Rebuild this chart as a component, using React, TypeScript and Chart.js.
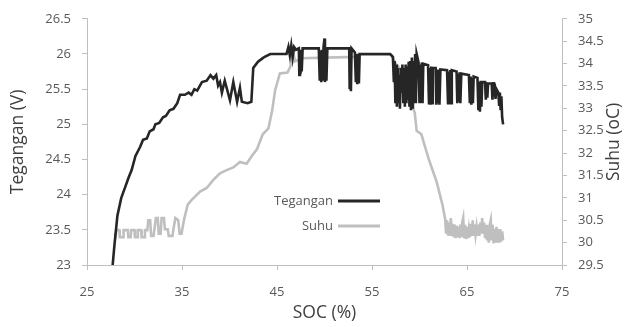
import React, { useEffect, useRef } from 'react';
import { Chart, registerables } from 'chart.js';

Chart.register(...registerables);

// Tegangan (V) against SOC (%): [SOC, volts]
const teganganRise: [number, number][] = [
  [27.7, 23.0], [27.9, 23.3], [28.2, 23.7], [28.6, 23.95], [29.0, 24.1], [29.4, 24.25], [29.7, 24.35], [30.1, 24.55],
  [30.6, 24.68], [30.9, 24.78], [31.3, 24.8], [31.6, 24.9], [32.0, 24.93], [32.2, 25.0], [32.6, 25.02], [33.0, 25.1],
  [33.3, 25.12], [33.7, 25.2], [34.1, 25.22], [34.5, 25.3], [34.8, 25.42], [35.3, 25.42], [35.7, 25.45], [36.0, 25.42],
  [36.3, 25.5], [36.6, 25.48], [37.1, 25.6], [37.6, 25.62], [38.0, 25.7], [38.3, 25.65], [38.6, 25.7], [38.8, 25.55],
  [39.0, 25.6], [39.2, 25.45], [39.5, 25.62], [40.05, 25.34], [40.4, 25.6], [40.8, 25.32], [41.1, 25.52], [41.3, 25.32],
  [41.9, 25.3], [42.3, 25.32], [42.5, 25.8], [43.0, 25.89], [43.4, 25.93], [43.7, 25.96], [44.3, 26.0], [46.0, 26.0],
];
const teganganPlateau: [number, number][] = [
  [46.2, 26.1], [46.35, 25.98], [46.5, 26.12], [46.65, 25.95], [46.8, 26.1], [47.0, 26.06], [47.3, 26.08], [47.35, 25.7],
  [47.42, 26.05], [47.48, 25.72], [47.55, 26.06], [47.6, 25.75], [47.7, 26.08], [49.4, 26.08], [49.5, 25.62], [49.58, 26.05],
  [49.66, 25.6], [49.74, 26.06], [49.82, 25.62], [49.9, 26.1], [50.0, 26.22], [50.05, 25.6], [50.13, 26.05], [50.2, 25.62],
  [50.3, 26.08], [52.6, 26.08], [52.65, 25.5], [52.72, 26.05], [52.78, 25.47], [52.85, 26.08], [53.2, 26.02], [53.3, 25.6],
  [53.38, 26.0], [53.45, 25.57], [53.55, 26.0], [53.62, 25.58], [53.7, 26.0], [56.9, 26.0],
];
const teganganEnd: [number, number][] = [
  [57.2, 25.96], [57.3, 25.6], [57.38, 25.9], [57.46, 25.3], [57.54, 25.85], [57.62, 25.25], [57.7, 25.8], [57.78, 25.3],
  [57.86, 25.7], [57.94, 25.22], [58.02, 25.8], [58.1, 25.45], [58.2, 25.85], [58.3, 25.3], [58.38, 25.8], [58.46, 25.25],
  [58.54, 25.85], [58.62, 25.3], [58.7, 25.82], [58.78, 25.35], [58.86, 25.89], [58.94, 25.25], [59.02, 25.9], [59.1, 25.2],
  [59.2, 25.95], [59.3, 25.22], [59.38, 25.9], [59.46, 25.3], [59.54, 26.0], [59.62, 25.3], [59.7, 26.0], [59.9, 25.88],
  [60.0, 25.3], [60.08, 25.85], [60.16, 25.32], [60.24, 25.88], [60.32, 25.3], [60.4, 25.86], [60.9, 25.84], [61.0, 25.3],
  [61.08, 25.8], [61.16, 25.28], [61.24, 25.82], [61.32, 25.3], [61.4, 25.8], [61.7, 25.8], [61.78, 25.28], [61.86, 25.78],
  [61.94, 25.3], [62.02, 25.78], [62.1, 25.28], [62.2, 25.78], [62.9, 25.77], [63.0, 25.3], [63.08, 25.75], [63.16, 25.32],
  [63.24, 25.77], [63.32, 25.3], [63.4, 25.77], [63.9, 25.75], [63.98, 25.3], [64.06, 25.72], [64.14, 25.32], [64.22, 25.74],
  [64.3, 25.3], [64.4, 25.72], [65.2, 25.7], [65.3, 25.3], [65.38, 25.68], [65.46, 25.28], [65.54, 25.66], [65.62, 25.3],
  [65.7, 25.68], [66.1, 25.66], [66.2, 25.2], [66.28, 25.6], [66.36, 25.18], [66.44, 25.62], [66.52, 25.25], [66.6, 25.6],
  [66.9, 25.6], [66.98, 25.35], [67.06, 25.55], [67.14, 25.38], [67.22, 25.58], [67.6, 25.58], [67.68, 25.35], [67.76, 25.6],
  [67.84, 25.4], [67.92, 25.58], [68.0, 25.36], [68.1, 25.5], [68.3, 25.45], [68.38, 25.28], [68.46, 25.45], [68.54, 25.2],
  [68.62, 25.4], [68.7, 25.1], [68.8, 25.0],
];

// Suhu (oC) against SOC (%): [SOC, degrees]
const suhuStart: [number, number][] = [
  [27.9, 30.2], [28.0, 30.15], [28.1, 30.28], [28.4, 30.28], [28.45, 30.12], [28.8, 30.12], [28.85, 30.28], [29.3, 30.28],
  [29.35, 30.12], [29.6, 30.12], [29.65, 30.28], [30.0, 30.28], [30.05, 30.12], [30.3, 30.12], [30.35, 30.28], [30.7, 30.28],
  [30.75, 30.12], [31.0, 30.12], [31.1, 30.28], [31.35, 30.28], [31.45, 30.5], [31.65, 30.5], [31.75, 30.15], [32.0, 30.15],
  [32.1, 30.3], [32.25, 30.55], [32.45, 30.55], [32.55, 30.2], [32.75, 30.2], [32.85, 30.55], [33.1, 30.55], [33.2, 30.3],
  [33.5, 30.3], [33.6, 30.15], [34.0, 30.15], [34.1, 30.3], [34.3, 30.55], [34.6, 30.5], [34.75, 30.2], [34.95, 30.2],
  [35.2, 30.5], [35.6, 30.85],
];
const suhuMiddle: [number, number][] = [
  [36.0, 30.95], [36.9, 31.14], [37.6, 31.22], [38.3, 31.4], [39.0, 31.55], [39.7, 31.62], [40.4, 31.68],
  [41.1, 31.8], [41.8, 31.76], [42.4, 31.95], [42.9, 32.09], [43.5, 32.42], [44.1, 32.55], [44.5, 32.96], [44.8, 33.4],
  [45.3, 33.78], [46.1, 33.8], [46.4, 33.93], [46.7, 34.26], [46.9, 34.05], [47.6, 34.12], [53.2, 34.15], [53.5, 34.2],
  [57.0, 34.2], [57.5, 34.0], [58.3, 33.8], [58.8, 33.4], [59.0, 33.2], [59.5, 32.9], [59.7, 32.5], [60.2, 32.42],
  [60.5, 32.2], [61.0, 31.85], [61.8, 31.36], [62.4, 30.86], [62.7, 30.53],
];
const suhuEnd: [number, number][] = [
  [62.8, 30.2], [62.9, 30.5], [63.0, 30.18], [63.1, 30.45], [63.2, 30.15], [63.3, 30.55], [63.4, 30.15], [63.5, 30.42],
  [63.6, 30.12], [63.7, 30.4], [63.8, 30.1], [63.9, 30.38], [64.0, 30.12], [64.1, 30.35], [64.2, 30.1], [64.3, 30.4],
  [64.4, 30.12], [64.5, 30.45], [64.6, 30.55], [64.7, 30.1], [64.8, 30.4], [64.9, 30.08], [65.0, 30.35], [65.1, 30.1],
  [65.2, 30.3], [65.3, 30.12], [65.4, 30.42], [65.5, 30.15], [65.6, 30.5], [65.7, 30.15], [65.8, 30.4], [65.9, 30.18],
  [66.0, 30.35], [66.1, 30.15], [66.2, 30.4], [66.3, 30.15], [66.4, 30.45], [66.5, 30.2], [66.6, 30.55], [66.7, 30.2],
  [66.8, 30.45], [66.9, 30.1], [67.0, 30.4], [67.1, 30.05], [67.2, 30.35], [67.3, 30.0], [67.4, 30.4], [67.5, 30.5],
  [67.6, 30.05], [67.7, 30.4], [67.8, 29.98], [67.9, 30.3], [68.0, 30.0], [68.1, 30.35], [68.2, 30.0], [68.3, 30.3],
  [68.4, 30.0], [68.5, 30.3], [68.6, 30.02], [68.7, 30.25], [68.8, 30.05],
];

const xMin = 25, xMax = 75, xStep = 10;
const vMin = 23, vMax = 26.5, vStep = 0.5;
const tMin = 29.5, tMax = 35, tStep = 0.5;

const labelTegangan = 'Tegangan';
const labelSuhu = 'Suhu';
const titleX = 'SOC (%)';
const titleLeft = 'Tegangan (V)';
const titleRight = 'Suhu (oC)';

const FONT = '"Open Sans", "Noto Sans", sans-serif';
const TICK_COLOR = '#595959';
const TITLE_COLOR = '#404040';
const AXIS_COLOR = '#bfbfbf';

const toPoints = (parts: [number, number][][]) =>
  parts.flat().map(([x, y]) => ({ x, y }));

export default function App() {
  const ref = useRef<HTMLCanvasElement | null>(null);

  useEffect(() => {
    document.body.style.margin = '0';
    const canvas = ref.current;
    if (!canvas) return;

    const customPlugin = {
      id: 'customDecor',
      afterDraw(chart: any) {
        const ctx = chart.ctx;
        const area = chart.chartArea;
        ctx.save();
        // right axis title, reading bottom to top
        ctx.fillStyle = TITLE_COLOR;
        ctx.font = `17.5px ${FONT}`;
        ctx.textAlign = 'center';
        ctx.textBaseline = 'middle';
        ctx.translate(614, (area.top + area.bottom) / 2);
        ctx.rotate(-Math.PI / 2);
        ctx.fillText(titleRight, 0, 0);
        ctx.restore();

        // legend inside the plot
        ctx.save();
        ctx.font = `13px ${FONT}`;
        ctx.textAlign = 'right';
        ctx.textBaseline = 'middle';
        const ys = [201, 226];
        chart.data.datasets.forEach((ds: any, i: number) => {
          const y = ys[i];
          ctx.fillStyle = TICK_COLOR;
          ctx.fillText(ds.label, 333, y);
          ctx.strokeStyle = ds.borderColor;
          ctx.lineWidth = 3;
          ctx.beginPath();
          ctx.moveTo(338, y);
          ctx.lineTo(380, y);
          ctx.stroke();
        });
        ctx.restore();
      },
    };

    const chart = new Chart(canvas, {
      type: 'line',
      data: {
        datasets: [
          {
            label: labelTegangan,
            data: toPoints([teganganRise, teganganPlateau, teganganEnd]),
            borderColor: '#262626',
            backgroundColor: '#262626',
            borderWidth: 2.6,
            pointRadius: 0,
            tension: 0,
            yAxisID: 'y',
          },
          {
            label: labelSuhu,
            data: toPoints([suhuStart, suhuMiddle, suhuEnd]),
            borderColor: '#bfbfbf',
            backgroundColor: '#bfbfbf',
            borderWidth: 2.6,
            pointRadius: 0,
            tension: 0,
            yAxisID: 'y1',
          },
        ],
      },
      options: {
        animation: false,
        responsive: false,
        maintainAspectRatio: false,
        layout: { padding: { top: 14, left: 0, right: 0, bottom: 0 } },
        plugins: {
          legend: { display: false },
          tooltip: { enabled: false },
        },
        scales: {
          x: {
            type: 'linear',
            min: xMin,
            max: xMax,
            afterFit: (s: any) => { s.height = 62; },
            ticks: {
              stepSize: xStep,
              color: TICK_COLOR,
              font: { family: FONT, size: 13 },
              padding: 14,
              callback: (v: any) => String(v),
            },
            grid: { drawOnChartArea: false, drawTicks: true, tickLength: 5, color: AXIS_COLOR },
            border: { color: AXIS_COLOR, width: 1 },
            title: {
              display: true,
              text: titleX,
              color: TITLE_COLOR,
              font: { family: FONT, size: 17.5 },
              padding: { top: 0, bottom: 3 },
            },
          },
          y: {
            type: 'linear',
            position: 'left',
            min: vMin,
            max: vMax,
            afterFit: (s: any) => { s.width = 87; },
            ticks: {
              stepSize: vStep,
              color: TICK_COLOR,
              font: { family: FONT, size: 13 },
              padding: 11,
              callback: (v: any) => String(v),
            },
            grid: { drawOnChartArea: false, drawTicks: true, tickLength: 5, color: AXIS_COLOR },
            border: { color: AXIS_COLOR, width: 1 },
            title: {
              display: true,
              text: titleLeft,
              color: TITLE_COLOR,
              font: { family: FONT, size: 17.5 },
              padding: { top: 8, bottom: 0 },
            },
          },
          y1: {
            type: 'linear',
            position: 'right',
            min: tMin,
            max: tMax,
            afterFit: (s: any) => { s.width = 72; },
            ticks: {
              stepSize: tStep,
              color: TICK_COLOR,
              font: { family: FONT, size: 13 },
              padding: 11,
              callback: (v: any) => String(v),
            },
            grid: { drawOnChartArea: false, drawTicks: true, tickLength: 5, color: AXIS_COLOR },
            border: { color: AXIS_COLOR, width: 1 },
            title: { display: false, text: titleRight },
          },
        },
      },
      plugins: [customPlugin],
    } as any);

    return () => chart.destroy();
  }, []);

  return (
    <div style={{ position: 'absolute', left: 0, top: 0, width: 634, height: 327 }}>
      <canvas ref={ref} width={634} height={327} style={{ width: 634, height: 327, display: 'block' }} />
    </div>
  );
}
